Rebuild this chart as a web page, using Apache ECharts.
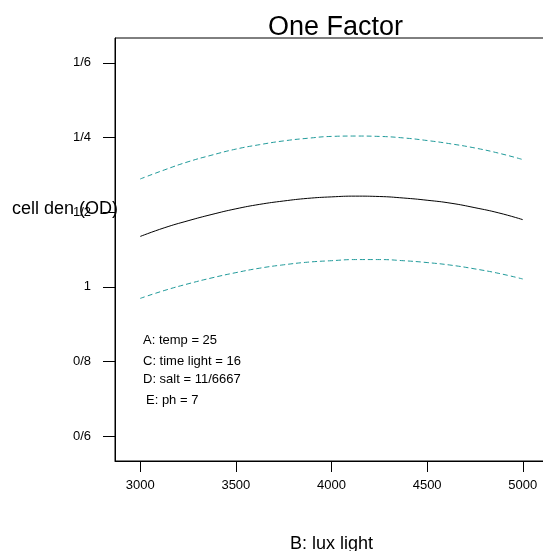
<!DOCTYPE html>
<html>
<head>
<meta charset="utf-8">
<script src="https://cdn.jsdelivr.net/npm/echarts@6/dist/echarts.min.js"></script>
<style>
html,body{margin:0;padding:0;background:#fff;}
#chart{width:543px;height:551px;}
</style>
</head>
<body>
<div id="chart"></div>
<script>
const luxValues = [3000, 3125, 3250, 3375, 3500, 3625, 3750, 3875, 4000, 4125, 4250, 4375, 4500, 4625, 4750, 4875, 5000];
const predicted = [1.135, 1.158, 1.177, 1.194, 1.209, 1.221, 1.230, 1.237, 1.241, 1.243, 1.242, 1.238, 1.232, 1.224, 1.212, 1.198, 1.180];
const upperBand = [1.289, 1.313, 1.335, 1.353, 1.369, 1.381, 1.391, 1.398, 1.403, 1.404, 1.403, 1.399, 1.392, 1.383, 1.372, 1.358, 1.341];
const lowerBand = [0.969, 0.990, 1.008, 1.024, 1.038, 1.050, 1.059, 1.066, 1.070, 1.073, 1.073, 1.070, 1.065, 1.058, 1.048, 1.036, 1.021];
const xTickValues = [3000, 3500, 4000, 4500, 5000];
const yTickValues = [0.6, 0.8, 1.0, 1.2, 1.4, 1.6];
const yTickLabels = ['0/6', '0/8', '1', '1/2', '1/4', '1/6'];
const factorNotes = ['A: temp = 25', 'C: time light = 16', 'D: salt = 11/6667', 'E: ph = 7'];
const chartTitle = 'One Factor';
const xName = 'B: lux light';
const yName = 'cell den (OD)';

const FONT = '"Liberation Sans", Arial, sans-serif';
const pairs = (ys) => luxValues.map((x, i) => [x, ys[i]]);

const chart = echarts.init(document.getElementById('chart'), null, {renderer: 'canvas'});
const notePos = [[143, 340], [143, 361], [143, 379], [146, 400]];

chart.setOption({
  animation: false,
  backgroundColor: '#fff',
  title: {
    text: chartTitle,
    left: 263, top: 9,
    textStyle: {fontFamily: FONT, fontSize: 27, fontWeight: 'normal', color: '#000'}
  },
  grid: {
    left: 115, right: -5, top: 38, bottom: 90,
    containLabel: false, outerBoundsMode: 'none',
    show: true, borderColor: '#000', borderWidth: 1, backgroundColor: 'transparent'
  },
  xAxis: {
    type: 'value', min: 2868, max: 5132,
    name: xName, nameLocation: 'middle', nameGap: 74,
    nameTextStyle: {fontFamily: FONT, fontSize: 18, color: '#000'},
    splitLine: {show: false},
    axisLine: {show: true, onZero: false, lineStyle: {color: '#000', width: 1}},
    axisTick: {show: true, length: 11, customValues: xTickValues, lineStyle: {color: '#000'}},
    axisLabel: {show: true, customValues: xTickValues, margin: 18, fontFamily: FONT, fontSize: 13, color: '#000',
      formatter: (v) => String(v)}
  },
  yAxis: {
    type: 'value', min: 0.5333, max: 1.6667,
    splitLine: {show: false},
    axisLine: {show: true, onZero: false, lineStyle: {color: '#000', width: 1}},
    axisTick: {show: true, length: 12, customValues: yTickValues, lineStyle: {color: '#000'}},
    axisLabel: {
      show: true, customValues: yTickValues, margin: 24, fontFamily: FONT, fontSize: 13, color: '#000',
      formatter: (v) => {
        const i = yTickValues.findIndex(t => Math.abs(t - v) < 1e-6);
        return i >= 0 ? yTickLabels[i] : '';
      }
    }
  },
  graphic: [
    {type: 'text', left: 12, top: 200, style: {text: yName, font: '18px ' + FONT, fill: '#000'}, z: 10}
  ].concat(factorNotes.map((t, i) => ({
    type: 'text', x: notePos[i][0], y: notePos[i][1],
    style: {text: t, font: '13px ' + FONT, fill: '#000', textVerticalAlign: 'middle'}
  }))),
  series: [
    {type: 'line', data: pairs(upperBand), smooth: true, showSymbol: false,
     lineStyle: {color: '#1f9a9a', width: 1, type: [5, 3]}},
    {type: 'line', data: pairs(predicted), smooth: true, showSymbol: false,
     lineStyle: {color: '#000', width: 1}},
    {type: 'line', data: pairs(lowerBand), smooth: true, showSymbol: false,
     lineStyle: {color: '#1f9a9a', width: 1, type: [5, 3]}}
  ]
});
</script>
</body>
</html>
